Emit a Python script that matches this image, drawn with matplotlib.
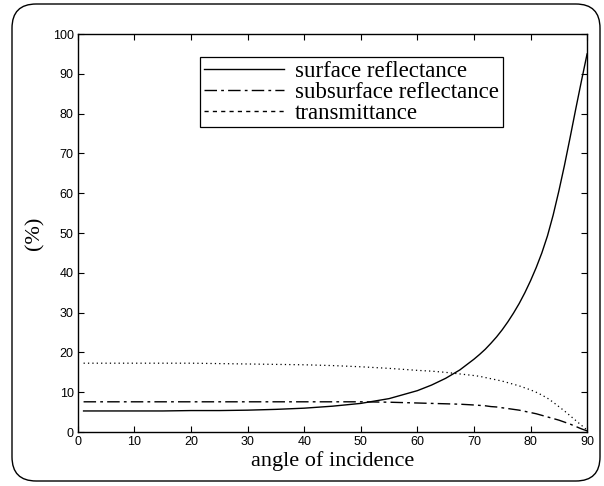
import matplotlib
matplotlib.use("Agg")
import matplotlib.pyplot as plt
from matplotlib.lines import Line2D
from matplotlib.patches import FancyBboxPatch

# ── data ─────────────────────────────────────────────────────────────────────
angle = [1, 5, 10, 15, 20, 25, 30, 35, 40, 45, 50, 55, 60, 62.5, 65, 67.5,
         70, 71, 72, 73, 74, 75, 76, 77, 78, 79, 80, 81, 82, 83, 84, 85,
         86, 87, 88, 89, 90]
surface = [5.3, 5.3, 5.3, 5.3, 5.4, 5.4, 5.5, 5.7, 6.0, 6.5, 7.2, 8.4, 10.4,
           11.8, 13.5, 15.6, 18.3, 19.5, 20.8, 22.3, 23.9, 25.7, 27.7, 29.9,
           32.3, 35.0, 38.0, 41.3, 45.0, 49.3, 54.5, 60.5, 67.0, 74.0, 81.2,
           88.2, 95.0]
subsurface = [7.6, 7.6, 7.6, 7.6, 7.6, 7.6, 7.6, 7.6, 7.6, 7.6, 7.6, 7.5, 7.3,
              7.2, 7.1, 7.0, 6.8, 6.7, 6.6, 6.4, 6.3, 6.1, 5.9, 5.7, 5.5, 5.2,
              4.9, 4.6, 4.2, 3.8, 3.4, 3.0, 2.5, 2.0, 1.4, 0.8, 0.3]
transmit = [17.3, 17.3, 17.3, 17.3, 17.3, 17.2, 17.1, 17.0, 16.9, 16.7, 16.4,
            16.0, 15.5, 15.3, 15.0, 14.6, 14.2, 14.0, 13.7, 13.4, 13.1, 12.8,
            12.4, 12.0, 11.6, 11.1, 10.6, 10.0, 9.3, 8.5, 7.5, 6.4, 5.3, 4.1,
            2.9, 1.7, 0.5]
labels = ["surface reflectance", "subsurface reflectance", "transmittance"]
xticks = list(range(0, 91, 10))
yticks = list(range(0, 101, 10))

fig = plt.figure(figsize=(6.04, 4.86), dpi=100)
ax = fig.add_axes([0.129, 0.111, 0.843, 0.819])

dashdot = (0, (9, 3, 2, 3))
ax.plot(angle, surface, color="black", lw=1.0)
ax.plot(angle, subsurface, color="black", lw=1.0, linestyle=dashdot)
ax.plot(angle, transmit, color="black", lw=0.9, linestyle=(0, (1, 2.5)))

ax.set_xlim(0, 90)
ax.set_ylim(0, 100)
ax.set_xticks(xticks)
ax.set_yticks(yticks)
ax.tick_params(direction="in", top=True, right=True, length=4, width=0.8,
               labelsize=9, pad=3)
for lab in ax.get_xticklabels() + ax.get_yticklabels():
    lab.set_family("Liberation Sans")
for sp in ax.spines.values():
    sp.set_linewidth(1.0)

ax.set_xlabel("angle of incidence", family="Liberation Serif", fontsize=16,
              labelpad=2)
ax.set_ylabel("(%)", family="Liberation Serif", fontsize=16, labelpad=6)

# legend proxies (legend shows a dashed line for transmittance)
handles = [Line2D([], [], color="black", lw=1.0),
           Line2D([], [], color="black", lw=1.0, linestyle=(0, (9, 3, 2, 3))),
           Line2D([], [], color="black", lw=1.0, linestyle=(0, (3, 3)))]
leg = ax.legend(handles, labels, loc="upper left",
                bbox_to_anchor=(0.240, 0.942), fancybox=False,
                prop={"family": "Liberation Serif", "size": 16.5},
                handlelength=3.5, handletextpad=0.5, labelspacing=0.0,
                borderpad=0.15, borderaxespad=0.0, framealpha=1)
leg.get_frame().set_edgecolor("black")
leg.get_frame().set_linewidth(0.9)

# rounded outer frame
frame = FancyBboxPatch((12 / 604, 5 / 486), 588 / 604, 477 / 486,
                       boxstyle="round,pad=0,rounding_size=0.04",
                       transform=fig.transFigure, fill=False,
                       edgecolor="black", lw=1.0,
                       mutation_aspect=604 / 486)
fig.patches.append(frame)

fig.savefig("out.png", dpi=100)
